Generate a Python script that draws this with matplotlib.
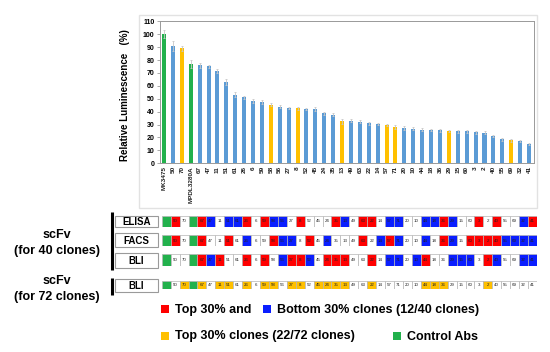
import matplotlib
matplotlib.use("Agg")
import matplotlib.pyplot as plt
from matplotlib.patches import Rectangle

plt.rcParams['font.family'] = ['Liberation Sans', 'DejaVu Sans']

# ---------------- data ----------------
clones = ["MK3475", "50", "70", "MPDL3280A", "67", "47", "11", "51", "61", "26", "6",
          "59", "58", "56", "27", "8", "52", "45", "24", "35", "13", "49", "63", "22",
          "14", "57", "71", "20", "10", "44", "18", "36", "29", "15", "60", "3", "2",
          "40", "55", "69", "32", "41"]
luminescence = [100, 91, 89, 77, 76, 75, 71.5, 63, 53, 51, 48, 47.5, 45.5, 44, 43, 42.5,
                42, 42, 38.7, 37.7, 32.5, 33, 32.3, 31, 30.5, 29.7, 28.4, 27.1, 26.9, 26.1,
                25.8, 25.6, 25, 24.8, 24.8, 24, 23.8, 21.2, 18.6, 17.8, 17.3, 15]
errors = [3, 4, 2, 3, 2, 1.5, 1.5, 2, 2, 1.5, 1.5, 1.5, 1, 1.5, 1, 1, 1, 1.5, 1, 1,
          2, 1, 1, 1, 1, 1, 1.5, 1.5, 1, 1, 1, 1, 1, 1, 1, 1, 1, 1, 1, 1, 1, 1]
bar_groups = ["g", "b", "o", "g", "b", "b", "b", "b", "b", "b", "b", "b", "o", "b", "b", "o",
              "b", "b", "b", "b", "o", "b", "b", "b", "b", "o", "o", "b", "b", "b", "b", "b",
              "o", "b", "b", "b", "b", "b", "b", "o", "b", "b"]

elisa = ["g", "r", "w", "g", "r", "b", "w", "b", "b", "r", "w", "r", "b", "b", "w", "r", "w",
         "w", "w", "r", "b", "w", "r", "r", "w", "b", "b", "w", "w", "b", "b", "r", "b", "w",
         "w", "r", "w", "r", "w", "w", "b", "r"]
facs = ["g", "r", "w", "g", "r", "w", "w", "r", "w", "b", "w", "w", "r", "b", "b", "w", "r",
        "w", "b", "w", "w", "w", "r", "w", "b", "r", "b", "w", "w", "b", "w", "r", "b", "w",
        "r", "r", "r", "r", "b", "b", "b", "b"]
bli40 = ["g", "w", "w", "g", "r", "b", "r", "w", "w", "r", "w", "r", "w", "b", "r", "r", "b",
         "w", "r", "r", "r", "w", "w", "r", "w", "b", "b", "w", "b", "r", "w", "w", "b", "b",
         "b", "w", "r", "b", "w", "w", "b", "b"]
bli72 = ["g", "w", "o", "g", "o", "w", "o", "o", "w", "o", "w", "o", "o", "w", "o", "o", "w",
         "o", "o", "o", "o", "w", "w", "o", "w", "w", "w", "w", "w", "o", "o", "o", "w", "w",
         "w", "w", "o", "w", "w", "w", "w", "w"]
row_names = ["ELISA", "FACS", "BLI", "BLI"]
legend_labels = ["Top 30% and", "Bottom 30% clones (12/40 clones)",
                 "Top 30% clones (22/72 clones)", "Control Abs"]

# ---------------- style ----------------
BAR_COL = {"g": "#22b14c", "b": "#5b9bd5", "o": "#ffc000"}
CELL_COL = {"g": "#22b14c", "r": "#ff0000", "b": "#0a1eff", "w": "#ffffff", "o": "#ffc000"}
W, H = 550, 352

fig = plt.figure(figsize=(5.5, 3.52), dpi=100)
fig.patch.set_facecolor("white")

def fbox(x0, y0, x1, y1):
    return [x0 / W, 1 - y1 / H, (x1 - x0) / W, (y1 - y0) / H]

# overlay axes in pixel coordinates
ov = fig.add_axes([0, 0, 1, 1], zorder=0)
ov.set_xlim(0, W)
ov.set_ylim(H, 0)
ov.axis("off")

# outer light box around the bar chart
ov.add_patch(Rectangle((139, 15), 398, 193, fill=False, edgecolor="#e2e2e2", lw=1.0))

# ---------------- bar chart ----------------
ax = fig.add_axes(fbox(160, 21.3, 534, 163.3), zorder=2)
x = list(range(len(clones)))
ax.bar(x, luminescence, width=0.45, color=[BAR_COL[g] for g in bar_groups],
       yerr=errors, error_kw=dict(ecolor="#c8c8c8", elinewidth=0.6, capsize=1.0, capthick=0.6))
ax.set_xlim(-0.45, 41.56)
ax.set_ylim(0, 110)
ax.set_yticks(range(0, 111, 10))
ax.set_yticklabels([str(v) for v in range(0, 111, 10)], fontsize=5, fontweight="bold")
ax.set_xticks(x)
ax.set_xticklabels(clones, rotation=90, fontsize=4.6, fontweight="bold", color="#222222")
ax.tick_params(axis="x", length=0, pad=2)
ax.tick_params(axis="y", length=2, width=0.5, color="#888888", pad=2)
for s in ax.spines.values():
    s.set_color("#999999")
    s.set_linewidth(0.7)

ov.text(125, 95, "Relative Luminescence   (%)", rotation=90, ha="center", va="center",
        fontsize=7, fontweight="bold")

# ---------------- table rows ----------------
rows = [(elisa, 216, 227, (216, 227)), (facs, 235, 246, (233, 247)),
        (bli40, 254, 266, (253, 268)), (bli72, 281, 289, (279, 292))]
for (codes, y0, y1, (by0, by1)), name in zip(rows, row_names):
    rax = fig.add_axes(fbox(161.7, y0, 537, y1), zorder=2)
    rax.bar(x, [1] * len(codes), width=1, bottom=0, color=[CELL_COL[c] for c in codes],
            edgecolor="#b5b5b5", linewidth=0.5)
    for i, (c, lab) in enumerate(zip(codes, clones)):
        if c != "g":
            rax.text(i, 0.5, lab, ha="center", va="center", fontsize=3.2, color="#222222")
    rax.set_xlim(-0.5, len(codes) - 0.5)
    rax.set_ylim(0, 1)
    rax.axis("off")
    # label box
    ov.add_patch(Rectangle((115, by0), 43, by1 - by0, facecolor="white",
                           edgecolor="#9a9a9a", lw=0.8))
    ov.text(136.5, (by0 + by1) / 2 + 0.5, name, ha="center", va="center",
            fontsize=7, fontweight="bold")

# black bracket bars
ov.plot([112, 112], [212, 270], color="black", lw=2.2, solid_capstyle="butt")
ov.plot([112, 112], [278, 295], color="black", lw=2.2, solid_capstyle="butt")

ov.text(57, 235, "scFv", ha="center", va="center", fontsize=9, fontweight="bold")
ov.text(57, 251, "(for 40 clones)", ha="center", va="center", fontsize=9, fontweight="bold")
ov.text(57, 281, "scFv", ha="center", va="center", fontsize=9, fontweight="bold")
ov.text(57, 297, "(for 72 clones)", ha="center", va="center", fontsize=9, fontweight="bold")

# ---------------- legend ----------------
leg_items = [(165, 309, CELL_COL["r"], legend_labels[0]),
             (267, 309, CELL_COL["b"], legend_labels[1]),
             (165, 336, CELL_COL["o"], legend_labels[2]),
             (397, 336, CELL_COL["g"], legend_labels[3])]
for lx, ly, col, lab in leg_items:
    ov.add_patch(Rectangle((lx - 4, ly - 4), 8, 8, facecolor=col, edgecolor="none"))
    ov.text(lx + 10, ly + 0.5, lab, ha="left", va="center", fontsize=9, fontweight="bold")

fig.savefig("out.png", dpi=100)
